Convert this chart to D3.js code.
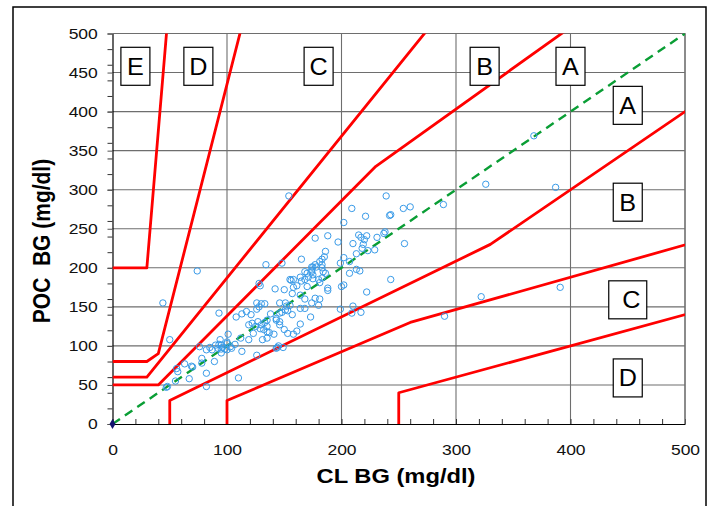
<!DOCTYPE html>
<html>
<head>
<meta charset="utf-8">
<script src="https://cdn.jsdelivr.net/npm/d3@7"></script>
<style>
  body { margin: 0; background: #fff; }
  text { font-family: "Liberation Sans", Arial, sans-serif; }
</style>
</head>
<body>
<div id="chart"></div>
<script>
// ---- DATA ----
const xTicks = [0, 100, 200, 300, 400, 500];
const yTicks = [0, 50, 100, 150, 200, 250, 300, 350, 400, 450, 500];
const minorTicks = d3.range(0, 501, 20);

// zone boundaries (CL BG, POC BG)
const upperAB = [[0, 50], [40, 50], [230, 330], [440, 550]];
const upperBC = [[0, 60], [30, 60], [300, 550]];
const upperCD = [[0, 80], [30, 80], [40, 90], [120, 550]];
const upperDE = [[0, 200], [30, 200], [50, 550]];
const lowerAB = [[50, 0], [50, 30], [330, 230], [550, 450]];
const lowerBC = [[100, 0], [100, 30], [260, 130], [550, 250]];
const lowerCD = [[250, 0], [250, 40], [550, 160]];
const identity = [[0, 0], [500, 500]];

const zoneNames = ["E", "D", "C", "B", "A", "A", "B", "C", "D"];
const zoneAtCL  = [20, 75, 180, 325, 400, 450, 450, 450, 450];
const zoneAtPOC = [458, 458, 458, 458, 458, 408, 284, 159, 59];

// paired readings [CL BG, POC BG]
const readings = [
  [74,196],[134,204],[148,206],[154,292],[128,180],[129,177],[142,173],[150,172],[155,185],
  [239,292],[209,276],[221,266],[242,267],[243,268],[202,258],[177,238],[188,241],[197,233],
  [215,242],[217,239],[222,241],[237,244],[210,231],[219,230],[218,225],[223,222],[229,223],
  [213,218],[207,208],[186,221],[183,211],[181,208],[165,211],[177,204],[175,201],[178,201],
  [183,200],[184,195],[213,198],[216,196],[243,185],[168,195],[170,193],[174,195],[175,191],
  [164,188],[165,183],[168,185],[171,188],[175,186],[156,184],[158,185],[180,185],[181,181],
  [202,178],[200,176],[188,174],[158,175],[161,177],
  [185,214],[183,204],[174,201],[202,213],[207,193],[231,239],[238,246],[220,236],
  [93,142],[108,137],[113,141],[126,155],[128,150],[130,154],[133,154],[151,155],[138,141],
  [146,142],[119,127],[122,129],[125,125],[127,131],[130,127],[133,130],[135,133],[135,125],
  [146,131],[137,117],[141,115],[131,108],[135,110],[119,108],[144,98],[101,115],[90,101],
  [93,102],[96,98],[98,96],[95,96],[113,93],[107,102],[85,98],[89,80],[126,88],[78,84],
  [63,77],[69,74],[82,65],[67,58],[110,59],[82,48],
  [146,155],[152,151],[153,145],[148,143],[143,135],[146,127],[150,121],[153,116],[135,118],
  [132,121],[143,97],[145,100],[112,110],[100,103],[103,99],
  [222,169],[199,147],[210,151],[209,142],[217,143],[173,137],[164,128],[161,119],[158,115],
  [157,140],[157,167],[164,165],[168,160],[177,161],[181,160],[180,152],[174,155],[168,148],
  [164,148],[188,171],
  [44,155],[50,108],[56,71],[57,67],[55,55],[48,48],
  [254,276],[260,278],[289,281],[326,307],[387,303],[255,231],[322,163],[391,175],[290,138],
  [368,369],
  [149,98],[186,193],[183,187],[174,197],[170,176],[199,206],[151,146],[155,152],
  [76,99],[82,95],[87,95],[92,97],[95,101],[100,105],[95,91],[100,95],[104,97],[70,73],
  [78,78],[94,108],[47,47],[129,122],[123,116],[117,144],[121,140],[126,147],[143,133]
];

// ---- SETUP ----
const setup = { width: 711, height: 506, left: 112.5, right: 685, top: 33.5, bottom: 424, sx: 1.13 };

const svg = d3.select("#chart").append("svg")
    .attr("width", setup.width)
    .attr("height", setup.height);

const x = d3.scaleLinear().domain([0, 500]).range([setup.left, setup.right]);
const y = d3.scaleLinear().domain([0, 500]).range([setup.bottom, setup.top]);

// outer frame
svg.append("rect")
    .attr("x", 13).attr("y", 7)
    .attr("width", 693).attr("height", 530)
    .attr("fill", "none")
    .attr("stroke", "#000")
    .attr("stroke-width", 1.5);

svg.append("defs").append("clipPath").attr("id", "plot")
  .append("rect")
    .attr("x", setup.left).attr("y", setup.top)
    .attr("width", setup.right - setup.left)
    .attr("height", setup.bottom - setup.top);

// grid
const grid = svg.append("g").attr("stroke", "#6e6e6e").attr("stroke-width", 1.1);
grid.selectAll("line.v").data(xTicks.slice(1)).join("line")
    .attr("x1", d => x(d)).attr("x2", d => x(d))
    .attr("y1", setup.top).attr("y2", setup.bottom);
grid.selectAll("line.h").data(yTicks.slice(1)).join("line")
    .attr("x1", setup.left).attr("x2", setup.right)
    .attr("y1", d => y(d)).attr("y2", d => y(d));

// axes: minor ticks
svg.append("g")
    .attr("transform", `translate(0,${setup.bottom})`)
    .call(d3.axisBottom(x).tickValues(minorTicks).tickSize(-5).tickSizeOuter(0).tickFormat(""))
    .call(g => g.select(".domain").attr("stroke", "#000").attr("stroke-width", 1.2))
    .call(g => g.selectAll(".tick line").attr("stroke", "#333"));

svg.append("g")
    .attr("transform", `translate(${setup.left},0)`)
    .call(d3.axisLeft(y).tickValues(minorTicks).tickSize(5).tickSizeOuter(0).tickFormat(""))
    .call(g => g.select(".domain").attr("stroke", "#000").attr("stroke-width", 1.2))
    .call(g => g.selectAll(".tick line").attr("stroke", "#333"));

// axes: labels
svg.append("g")
    .attr("transform", `translate(${setup.left},0)`)
    .call(d3.axisLeft(y).tickValues(yTicks).tickSize(5).tickPadding(8))
    .call(g => g.select(".domain").remove())
    .call(g => g.selectAll(".tick line").attr("stroke", "#555"))
    .call(g => g.selectAll(".tick text")
        .attr("font-size", "15.5px").attr("fill", "#111")
        .attr("font-family", '"Liberation Sans", Arial, sans-serif')
        .attr("transform", `scale(${setup.sx},1)`));

svg.append("g")
    .attr("transform", `translate(0,${setup.bottom})`)
    .call(d3.axisBottom(x).tickValues(xTicks).tickSize(0).tickPadding(20))
    .call(g => g.select(".domain").remove())
    .call(g => g.selectAll(".tick text")
        .attr("font-size", "15.5px").attr("fill", "#111")
        .attr("font-family", '"Liberation Sans", Arial, sans-serif')
        .attr("transform", `scale(${setup.sx},1)`));

// plot border top / right
svg.append("path")
    .attr("d", `M${setup.left},${setup.top}H${setup.right}V${setup.bottom}`)
    .attr("fill", "none").attr("stroke", "#6e6e6e").attr("stroke-width", 1.1);

// zone lines
const line = d3.line().x(d => x(d[0])).y(d => y(d[1]));
const plot = svg.append("g").attr("clip-path", "url(#plot)");

plot.selectAll("path.zone")
  .data([upperAB, upperBC, upperCD, upperDE, lowerAB, lowerBC, lowerCD])
  .join("path")
    .attr("class", "zone")
    .attr("d", line)
    .attr("fill", "none")
    .attr("stroke", "#ff0000")
    .attr("stroke-width", 2.8)
    .attr("stroke-linejoin", "round");

// identity line
plot.append("path")
    .attr("d", line(identity))
    .attr("fill", "none")
    .attr("stroke", "#0a9e35")
    .attr("stroke-width", 2.4)
    .attr("stroke-dasharray", "9,6");

// readings
plot.selectAll("circle")
  .data(readings)
  .join("circle")
    .attr("cx", d => x(d[0]))
    .attr("cy", d => y(d[1]))
    .attr("r", 3.2)
    .attr("fill", "none")
    .attr("stroke", "#3a9be8")
    .attr("stroke-width", 1);

// marker at origin
svg.append("path")
    .attr("d", d3.symbol(d3.symbolDiamond, 30)())
    .attr("transform", `translate(${x(0)},${y(0)})`)
    .attr("fill", "#14146e");

// zone labels
const labels = svg.selectAll("g.zl")
  .data(zoneNames)
  .join("g")
    .attr("class", "zl")
    .attr("transform", (d, i) => `translate(${x(zoneAtCL[i])},${y(zoneAtPOC[i])})`);

labels.append("rect")
    .attr("x", (d, i) => i === 7 ? -19 : -14.5)
    .attr("y", -19)
    .attr("width", (d, i) => i === 7 ? 38 : 29)
    .attr("height", 38)
    .attr("fill", "#fff")
    .attr("stroke", "#000")
    .attr("stroke-width", 1.2);

labels.append("text")
    .attr("transform", (d, i) => `translate(${i === 7 ? 3.5 : 0},8.5) scale(1.05,1)`)
    .attr("text-anchor", "middle")
    .attr("font-size", "24px")
    .attr("fill", "#000")
    .text(d => d);

// axis titles
svg.append("text")
    .attr("transform", `translate(396,483) scale(${setup.sx},1)`)
    .attr("text-anchor", "middle")
    .attr("font-size", "21px")
    .attr("font-weight", "bold")
    .text("CL BG (mg/dl)");

svg.append("text")
    .attr("transform", `translate(50,241) scale(${setup.sx},1) rotate(-90)`)
    .attr("text-anchor", "middle")
    .attr("font-size", "21px")
    .attr("font-weight", "bold")
    .style("white-space", "pre")
    .text("POC  BG (mg/dl)");
</script>
</body>
</html>
